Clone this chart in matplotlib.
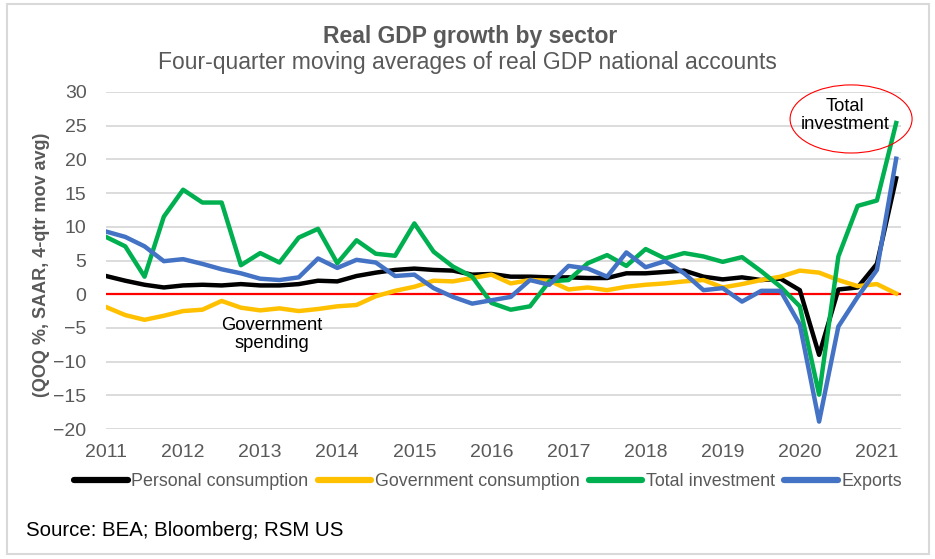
import matplotlib
matplotlib.use('Agg')
import matplotlib.pyplot as plt
from matplotlib.patches import Ellipse, Rectangle

plt.rcParams['font.family'] = ['Liberation Sans', 'DejaVu Sans']

# quarterly data, 2011Q1 .. 2021Q2
years = list(range(2011, 2022))
personal = [2.7, 2.0, 1.4, 1.0, 1.3, 1.4, 1.3, 1.5, 1.3, 1.3, 1.5, 2.0, 1.9, 2.7, 3.2, 3.6,
            3.8, 3.6, 3.5, 2.9, 3.0, 2.6, 2.6, 2.5, 2.5, 2.4, 2.4, 3.1, 3.1, 3.3,
            3.5, 2.6, 2.2, 2.5, 2.1, 2.3, 0.6, -9.0, 0.7, 1.0, 4.5, 17.2]
government = [-1.9, -3.1, -3.8, -3.2, -2.5, -2.3, -1.0, -2.0, -2.4, -2.1, -2.5, -2.2, -1.8, -1.6, -0.3, 0.5,
              1.1, 2.0, 1.9, 2.4, 2.9, 1.6, 2.1, 2.0, 0.7, 1.0, 0.6, 1.1, 1.4, 1.6,
              1.9, 2.1, 1.0, 1.5, 2.1, 2.6, 3.5, 3.2, 2.1, 1.2, 1.5, 0.1]
investment = [8.5, 7.1, 2.6, 11.5, 15.5, 13.6, 13.6, 4.3, 6.1, 4.7, 8.4, 9.7, 4.6, 8.0, 6.0, 5.7,
              10.5, 6.3, 4.1, 2.6, -1.3, -2.3, -1.8, 1.9, 2.1, 4.6, 5.8, 4.2, 6.7, 5.3,
              6.1, 5.6, 4.8, 5.5, 3.4, 1.1, -1.8, -14.9, 5.6, 13.1, 13.9, 25.4]
exports = [9.3, 8.5, 7.1, 4.9, 5.2, 4.5, 3.7, 3.1, 2.3, 2.1, 2.5, 5.3, 3.9, 5.1, 4.7, 2.7,
           2.9, 0.9, -0.4, -1.4, -0.9, -0.4, 2.1, 1.4, 4.2, 3.8, 2.6, 6.2, 4.0, 4.9,
           3.1, 0.6, 0.9, -1.1, 0.5, 0.5, -4.5, -18.9, -4.8, -0.4, 3.6, 20.1]

x = list(range(len(personal)))
grey = '#595959'

fig = plt.figure(figsize=(9.35, 5.59), dpi=100)
ax = fig.add_axes([106 / 935, 1 - 429 / 559, 795 / 935, 337 / 559])

ax.axhline(0, color='#ff0000', lw=1.6, zorder=2)
ax.plot(x, personal, color='black', lw=3.2, label='Personal consumption', zorder=3)
ax.plot(x, government, color='#ffc000', lw=3.2, label='Government consumption', zorder=3)
ax.plot(x, investment, color='#00b050', lw=3.2, label='Total investment', zorder=3)
ax.plot(x, exports, color='#4472c4', lw=3.2, label='Exports', zorder=3)

ax.set_ylim(-20, 30)
ax.set_xlim(0, 41.25)
ax.set_yticks(range(-20, 31, 5))
ax.set_xticks([4 * i for i in range(len(years))])
ax.set_xticklabels([str(y) for y in years])
ax.grid(axis='y', color='#d9d9d9', lw=1.3, zorder=1)
ax.tick_params(length=0, labelsize=14, labelcolor=grey)
ax.tick_params(axis='y', pad=14)
ax.tick_params(axis='x', pad=11)
for s in ax.spines.values():
    s.set_visible(False)

# annotations
ax.text(8.6, -6.0, 'Government\nspending', ha='center', va='center', fontsize=13.2, color='black',
        linespacing=1.05)
ax.text(38.35, 26.5, 'Total\ninvestment', ha='center', va='center', fontsize=13.2, color='black',
        linespacing=1.05, zorder=2.5)
ax.add_patch(Ellipse((38.66, 26.0), 6.33, 10.1, fill=False, edgecolor='#ff0000', lw=0.8, zorder=4,
                     clip_on=False))

fig.text(0.503, 1 - 37 / 559, 'Real GDP growth by sector', ha='center', va='center',
         fontsize=16.5, fontweight='bold', color=grey)
fig.text(0.5, 1 - 62 / 559, 'Four-quarter moving averages of real GDP national accounts',
         ha='center', va='center', fontsize=16.5, color=grey)
fig.text(42 / 935, 1 - 265 / 559, '(QOQ %, SAAR, 4-qtr mov avg)', rotation=90,
         ha='center', va='center', fontsize=13, fontweight='bold', color=grey)
fig.text(26 / 935, 1 - 530 / 559, 'Source: BEA; Bloomberg; RSM US', ha='left', va='center',
         fontsize=14.7, color='black')

leg = fig.legend(loc='center', bbox_to_anchor=(488 / 935, 1 - 482 / 559), ncol=4, frameon=False,
                 fontsize=12.9, handlelength=3, handletextpad=0.2, columnspacing=0.5)
for t in leg.get_texts():
    t.set_color(grey)
for h in leg.get_lines():
    h.set_linewidth(4.5)
    h.set_solid_capstyle('round')

fig.patches.append(Rectangle((7 / 935, 1 - 554 / 559), 922 / 935, 550 / 559,
                             transform=fig.transFigure, fill=False, edgecolor='#d9d9d9', lw=1.5))

fig.savefig('out.png', dpi=100)
